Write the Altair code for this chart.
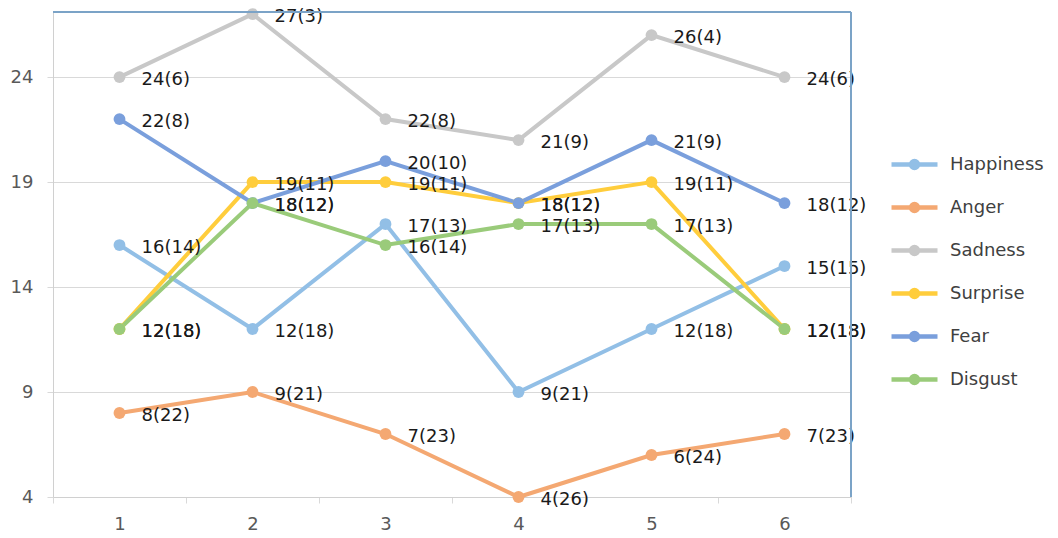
import altair as alt
import pandas as pd

categories = ["1", "2", "3", "4", "5", "6"]
series_names = ["Happiness", "Anger", "Sadness", "Surprise", "Fear", "Disgust"]
happiness = [16, 12, 17, 9, 12, 15]
happiness_rank = [14, 18, 13, 21, 18, 15]
anger = [8, 9, 7, 4, 6, 7]
anger_rank = [22, 21, 23, 26, 24, 23]
sadness = [24, 27, 22, 21, 26, 24]
sadness_rank = [6, 3, 8, 9, 4, 6]
surprise = [12, 19, 19, 18, 19, 12]
surprise_rank = [18, 11, 11, 12, 11, 18]
fear = [22, 18, 20, 18, 21, 18]
fear_rank = [8, 12, 10, 12, 9, 12]
disgust = [12, 18, 16, 17, 17, 12]
disgust_rank = [18, 12, 14, 13, 13, 18]
colors = ["#92BFE6", "#F4A872", "#C8C8C8", "#FFCD3C", "#7A9FDC", "#9ACB7A"]
y_ticks = [4, 9, 14, 19, 24]

values = [happiness, anger, sadness, surprise, fear, disgust]
ranks = [happiness_rank, anger_rank, sadness_rank, surprise_rank, fear_rank, disgust_rank]

rows = []
for si, name in enumerate(series_names):
    for ci, cat in enumerate(categories):
        rows.append({
            "cat": cat,
            "series": name,
            "order": si,
            "value": values[si][ci],
            "label": f"{values[si][ci]}({ranks[si][ci]})",
        })
df = pd.DataFrame(rows)

font = "DejaVu Sans"
frame_color = "#7BA3C7"
legend_path = "M-1,0H1M0.15,0A0.15,0.15 0 1,1 -0.15,0A0.15,0.15 0 1,1 0.15,0"

x_enc = alt.X(
    "cat:N",
    sort=categories,
    bandPosition=0.5,
    scale=alt.Scale(type="band", paddingInner=0, paddingOuter=0),
    axis=alt.Axis(
        title=None, labelAngle=0, tickBand="extent", grid=False,
        domainColor="#D0D0D0", tickColor="#D9D9D9", tickSize=6,
        labelColor="#595959", labelFontSize=18, labelFont=font, labelPadding=12,
    ),
)
y_enc = alt.Y(
    "value:Q",
    scale=alt.Scale(domain=[4, 27.1], nice=False, zero=False),
    axis=alt.Axis(
        title=None, values=y_ticks, grid=True, gridColor="#D9D9D9",
        domainColor="#D0D0D0", tickColor="#D9D9D9", tickSize=6,
        labelColor="#595959", labelFontSize=18, labelFont=font, labelPadding=14,
    ),
)
color_enc = alt.Color(
    "series:N",
    sort=series_names,
    scale=alt.Scale(domain=series_names, range=colors),
    legend=alt.Legend(
        title=None, orient="none", legendX=836, legendY=127,
        symbolType=legend_path, symbolSize=2116, symbolStrokeWidth=4.5,
        labelFontSize=18, labelFont=font, labelColor="#404040",
        labelOffset=10, rowPadding=5, padding=0,
    ),
)

base = alt.Chart(df)
lines = base.mark_line(strokeWidth=4).encode(
    x=x_enc, y=y_enc, color=color_enc, detail="series:N", order="order:Q"
)
points = base.mark_circle(size=140, opacity=1).encode(
    x=x_enc, y=y_enc, color=alt.Color("series:N", sort=series_names, legend=None,
                                       scale=alt.Scale(domain=series_names, range=colors))
)
labels = base.mark_text(align="left", baseline="middle", dx=22, dy=3,
                        fontSize=18, font=font, color="#1A1A1A").encode(
    x=x_enc, y=y_enc, text="label:N"
)
frame_top = alt.Chart(df).mark_rule(color=frame_color, strokeWidth=1.5).encode(
    x=alt.value(0), x2=alt.value(798), y=alt.value(0)
)
frame_right = alt.Chart(df).mark_rule(color=frame_color, strokeWidth=1.5).encode(
    x=alt.value(798), y=alt.value(0), y2=alt.value(485)
)

chart = alt.layer(lines, points, labels, frame_top, frame_right).properties(
    width=798, height=485,
    autosize=alt.AutoSizeParams(type="none"),
    padding={"left": 53, "top": 12, "right": 207, "bottom": 41},
).configure_view(strokeWidth=0)

chart.save("out.html", embed_options={"renderer": "svg", "actions": False})
